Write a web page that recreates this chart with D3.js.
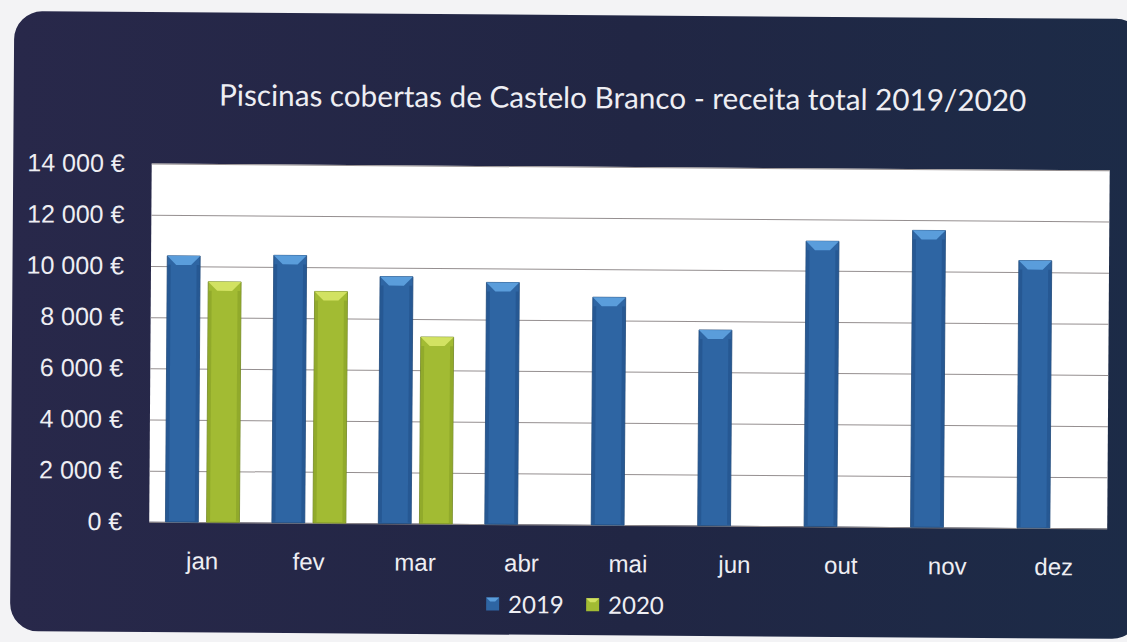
<!DOCTYPE html>
<html lang="pt">
<head>
    <meta charset="UTF-8">
    <title>Piscinas cobertas de Castelo Branco</title>
    <script src="https://d3js.org/d3.v7.min.js"></script>
    <style>
        body {
            margin: 0;
            background: #f3f3f5;
        }
        svg {
            font-family: Lato, "Open Sans", sans-serif;
            display: block;
        }
        .tick text {
            fill: #eeeef3;
        }
    </style>
</head>
<body>
    <div id="chart"></div>
    <script>
        // data
        const months = ["jan", "fev", "mar", "abr", "mai", "jun", "out", "nov", "dez"];
        const seriesNames = ["2019", "2020"];
        const values2019 = [10400, 10450, 9650, 9450, 8900, 7650, 11150, 11600, 10450];
        const values2020 = [9400, 9050, 7300];   // only jan-mar
        const yTicks = [0, 2000, 4000, 6000, 8000, 10000, 12000, 14000];
        const title = "Piscinas cobertas de Castelo Branco - receita total 2019/2020";

        const width = 1127, height = 642;
        const plot = {left: 150.5, right: 1108.5, top: 166.5, bottom: 524.7};

        const colors = {
            "2019": {body: "#2e65a3", top: "#5a9ddb", side: "#24538b", edge: "#1d4677"},
            "2020": {body: "#a2bb33", top: "#d2e262", side: "#8aa228", edge: "#6f8420"}
        };

        const pt = d3.formatLocale({decimal: ",", thousands: " ", grouping: [3], currency: ["", " €"]});
        const fmt = pt.format("$,");

        const rows = [];
        months.forEach((m, i) => {
            rows.push({month: m, series: "2019", value: values2019[i]});
            if (i < values2020.length) rows.push({month: m, series: "2020", value: values2020[i]});
        });

        const svg = d3.select("#chart").append("svg")
            .attr("width", width)
            .attr("height", height);

        const defs = svg.append("defs");
        const bg = defs.append("linearGradient").attr("id", "bg");
        bg.append("stop").attr("offset", "0%").attr("stop-color", "#28284a");
        bg.append("stop").attr("offset", "55%").attr("stop-color", "#212644");
        bg.append("stop").attr("offset", "100%").attr("stop-color", "#1c2b47");

        // the reference is a slightly tilted scan
        const root = svg.append("g").attr("transform", "rotate(0.4 563 340)");

        root.append("rect")
            .attr("x", 12)
            .attr("y", 15)
            .attr("width", 1130)
            .attr("height", 620)
            .attr("rx", 28)
            .attr("fill", "url(#bg)");

        root.append("rect")
            .attr("x", plot.left)
            .attr("y", plot.top)
            .attr("width", plot.right - plot.left)
            .attr("height", plot.bottom - plot.top)
            .attr("fill", "#ffffff");

        const x0 = d3.scaleBand()
            .domain(months)
            .range([plot.left, plot.right])
            .padding(0);

        const groupW = 74;
        const x1 = d3.scaleBand()
            .domain(seriesNames)
            .range([0, groupW])
            .paddingInner(0.2);

        const y = d3.scaleLinear()
            .domain([0, 14000])
            .range([plot.bottom, plot.top]);

        // gridlines
        root.append("g")
            .attr("transform", `translate(${plot.left},0)`)
            .call(d3.axisLeft(y).tickValues(yTicks).tickSize(-(plot.right - plot.left)).tickFormat(""))
            .call(g => g.select(".domain").remove())
            .call(g => g.selectAll("line").attr("stroke", "#958f90").attr("stroke-width", 1));

        // y labels
        root.append("g")
            .attr("transform", `translate(${plot.left},0)`)
            .call(d3.axisLeft(y).tickValues(yTicks).tickSize(0).tickPadding(27).tickFormat(fmt))
            .call(g => g.select(".domain").remove())
            .call(g => g.selectAll("text").style("font-size", "25px"));

        // x labels
        root.append("g")
            .attr("transform", `translate(0,${plot.bottom})`)
            .call(d3.axisBottom(x0).tickSize(0).tickPadding(30))
            .call(g => g.select(".domain").remove())
            .call(g => g.selectAll("text").style("font-size", "24px"));

        // bars with a bevel look
        const off = (x0.bandwidth() - groupW) / 2;
        const bars = root.selectAll(".bar")
            .data(rows)
            .enter().append("g")
            .attr("class", "bar");

        const bx = d => x0(d.month) + off + x1(d.series);
        const bw = x1.bandwidth();
        const bev = 9;

        bars.append("rect")
            .attr("x", bx)
            .attr("y", d => y(d.value))
            .attr("width", bw)
            .attr("height", d => y(0) - y(d.value))
            .attr("fill", d => colors[d.series].body)
            .attr("stroke", d => colors[d.series].edge)
            .attr("stroke-width", 0.8);

        bars.append("rect")
            .attr("x", d => bx(d) + 0.5)
            .attr("y", d => y(d.value) + bev)
            .attr("width", 3)
            .attr("height", d => y(0) - y(d.value) - bev - 1)
            .attr("fill", d => colors[d.series].side)
            .attr("opacity", 0.7);

        bars.append("rect")
            .attr("x", d => bx(d) + bw - 3.5)
            .attr("y", d => y(d.value) + bev)
            .attr("width", 3)
            .attr("height", d => y(0) - y(d.value) - bev - 1)
            .attr("fill", d => colors[d.series].side)
            .attr("opacity", 0.7);

        bars.append("path")
            .attr("d", d => {
                const x = bx(d), t = y(d.value);
                return `M${x},${t}H${x + bw}L${x + bw - bev},${t + bev}H${x + bev}Z`;
            })
            .attr("fill", d => colors[d.series].top);

        bars.append("title").text(d => `${d.month} ${d.series}: ${fmt(d.value)}`);

        // title
        root.append("text")
            .attr("x", 621)
            .attr("y", 108)
            .attr("text-anchor", "middle")
            .attr("fill", "#eeeef3")
            .style("font-size", "29.7px")
            .text(title);

        // legend
        const legend = root.selectAll(".legend")
            .data(seriesNames)
            .enter().append("g")
            .attr("class", "legend")
            .attr("transform", (d, i) => `translate(${488 + i * 100},598)`);

        legend.append("rect")
            .attr("width", 13)
            .attr("height", 13)
            .attr("fill", d => colors[d].body);

        legend.append("path")
            .attr("d", "M0,0H13L9,4H4Z")
            .attr("fill", d => colors[d].top);

        legend.append("text")
            .attr("x", 22)
            .attr("y", 7)
            .attr("dy", "0.35em")
            .attr("fill", "#eeeef3")
            .style("font-size", "24px")
            .text(d => d);
    </script>
</body>
</html>
